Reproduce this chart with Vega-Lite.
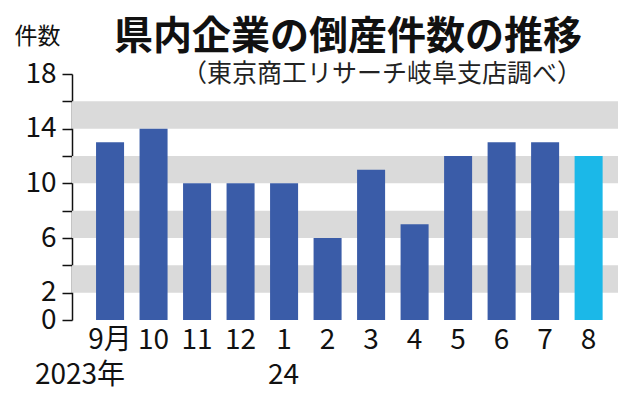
{
  "$schema": "https://vega.github.io/schema/vega-lite/v6.json",
  "autosize": "none",
  "width": 546,
  "height": 246,
  "padding": {"left": 72, "top": 74, "right": 16, "bottom": 80},
  "background": "white",
  "config": {
    "font": "Noto Sans CJK JP",
    "view": {"stroke": null},
    "axisY": {"labelOverlap": false}
  },
  "title": {
    "text": "県内企業の倒産件数の推移",
    "subtitle": "（東京商工リサーチ岐阜支店調べ）",
    "anchor": "end",
    "frame": "group",
    "dx": -36,
    "offset": -62,
    "font": "Noto Sans CJK JP",
    "fontSize": 39,
    "fontWeight": "bold",
    "color": "#111111",
    "subtitleFont": "Noto Sans CJK JP",
    "subtitleFontSize": 25,
    "subtitleColor": "#222222",
    "subtitlePadding": 5
  },
  "datasets": {
    "bars": [
      {"month": "9月", "count": 13, "kind": "past"},
      {"month": "10", "count": 14, "kind": "past"},
      {"month": "11", "count": 10, "kind": "past"},
      {"month": "12", "count": 10, "kind": "past"},
      {"month": "1", "count": 10, "kind": "past"},
      {"month": "2", "count": 6, "kind": "past"},
      {"month": "3", "count": 11, "kind": "past"},
      {"month": "4", "count": 7, "kind": "past"},
      {"month": "5", "count": 12, "kind": "past"},
      {"month": "6", "count": 13, "kind": "past"},
      {"month": "7", "count": 13, "kind": "past"},
      {"month": "8", "count": 12, "kind": "latest"}
    ],
    "bands": [
      {"lo": 2, "hi": 4},
      {"lo": 6, "hi": 8},
      {"lo": 10, "hi": 12},
      {"lo": 14, "hi": 16}
    ],
    "years": [
      {"month": "9月", "year": "2023年"},
      {"month": "1", "year": "24"}
    ]
  },
  "layer": [
    {
      "data": {"name": "bands"},
      "mark": {"type": "rect", "color": "#dadada"},
      "encoding": {
        "y": {
          "field": "lo", "type": "quantitative",
          "scale": {"domain": [0, 18], "nice": false},
          "axis": {
            "title": "件数", "titleAngle": 0, "titleAlign": "left", "titleBaseline": "top",
            "titleX": -58, "titleY": -49, "titleFontSize": 23, "titleFontWeight": "normal",
            "titleColor": "#111111", "titleFont": "Noto Sans CJK JP",
            "values": [0, 2, 4, 6, 8, 10, 12, 14, 16, 18],
            "tickCount": 20,
            "labelExpr": "indexof([0, 2, 6, 10, 14, 18], datum.value) >= 0 ? datum.label : ''",
            "labelOverlap": false,
            "labelFontSize": 28, "labelColor": "#111111", "labelPadding": 6,
            "labelFont": "Noto Sans CJK JP",
            "grid": false, "domainColor": "#111111", "domainWidth": 1.5,
            "tickColor": "#111111", "tickSize": 10, "tickWidth": 1.5
          }
        },
        "y2": {"field": "hi"}
      }
    },
    {
      "data": {"name": "bars"},
      "mark": {"type": "bar"},
      "encoding": {
        "x": {
          "field": "month", "type": "nominal", "sort": null,
          "scale": {"paddingInner": 0.356, "paddingOuter": 0.453, "align": 0.61},
          "axis": {
            "title": null, "domain": false, "ticks": false, "labelAngle": 0,
            "labelFontSize": 28, "labelColor": "#111111", "labelPadding": 6,
            "labelBaseline": "top", "labelFont": "Noto Sans CJK JP"
          }
        },
        "y": {
          "field": "count", "type": "quantitative",
          "scale": {"domain": [0, 18], "nice": false},
          "axis": {
            "title": "件数", "titleAngle": 0, "titleAlign": "left", "titleBaseline": "top",
            "titleX": -58, "titleY": -49, "titleFontSize": 23, "titleFontWeight": "normal",
            "titleColor": "#111111", "titleFont": "Noto Sans CJK JP",
            "values": [0, 2, 4, 6, 8, 10, 12, 14, 16, 18],
            "tickCount": 20,
            "labelExpr": "indexof([0, 2, 6, 10, 14, 18], datum.value) >= 0 ? datum.label : ''",
            "labelOverlap": false,
            "labelFontSize": 28, "labelColor": "#111111", "labelPadding": 6,
            "labelFont": "Noto Sans CJK JP",
            "grid": false, "domainColor": "#111111", "domainWidth": 1.5,
            "tickColor": "#111111", "tickSize": 10, "tickWidth": 1.5
          }
        },
        "color": {
          "field": "kind", "type": "nominal",
          "scale": {"domain": ["past", "latest"], "range": ["#3a5ca8", "#1bb8e8"]},
          "legend": null
        }
      }
    },
    {
      "data": {"name": "years"},
      "mark": {"type": "text", "align": "right", "baseline": "top", "dx": 15, "dy": 42, "fontSize": 28, "color": "#111111", "font": "Noto Sans CJK JP"},
      "encoding": {
        "x": {"field": "month", "type": "nominal", "sort": null},
        "y": {"datum": 0, "type": "quantitative"},
        "text": {"field": "year"}
      }
    }
  ]
}
